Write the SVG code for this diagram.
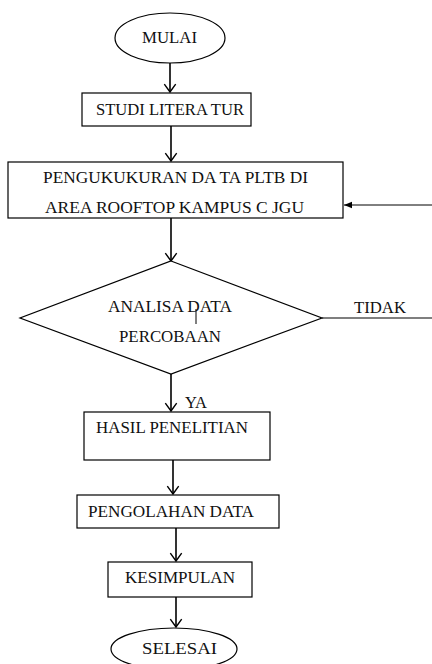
<svg xmlns="http://www.w3.org/2000/svg" width="432" height="664" viewBox="0 0 432 664">
<style>
.s{fill:#fff;stroke:#000;stroke-width:1.2}
.t{font-family:"Liberation Serif","Times New Roman",serif;font-size:16.5px;fill:#111}
.c{fill:none;stroke:#000;stroke-width:1.6}
.h{fill:none;stroke:#000;stroke-width:1.6}
</style>
<defs>
<marker id="open" markerUnits="userSpaceOnUse" markerWidth="16" markerHeight="14" viewBox="-10 -8 11 16" refX="0" refY="0" orient="auto">
<path d="M-9,-6.5 L0,0 L-9,6.5" class="h"/>
</marker>
<marker id="fill" markerUnits="userSpaceOnUse" markerWidth="10" markerHeight="8" viewBox="-8 -4 9 8" refX="0" refY="0" orient="auto">
<path d="M-8,-3.2 L0,0 L-8,3.2 Z" fill="#000"/>
</marker>
</defs>
<rect width="432" height="664" fill="#fff"/>
<g id="connectors">
<line class="c" x1="170" y1="63" x2="170" y2="92" marker-end="url(#open)"/>
<line class="c" x1="171" y1="126" x2="171" y2="161" marker-end="url(#open)"/>
<line class="c" x1="171" y1="218" x2="171" y2="261" marker-end="url(#open)"/>
<line style="fill:none;stroke:#000;stroke-width:1" x1="432" y1="205" x2="344" y2="205" marker-end="url(#fill)"/>
<line style="fill:none;stroke:#000;stroke-width:1.2" x1="322" y1="318" x2="432" y2="318"/>
<line class="c" x1="171" y1="374" x2="171" y2="411" marker-end="url(#open)"/>
<line class="c" x1="173" y1="460" x2="173" y2="494" marker-end="url(#open)"/>
<line class="c" x1="176" y1="528" x2="176" y2="561" marker-end="url(#open)"/>
<line class="c" x1="176" y1="597" x2="176" y2="627" marker-end="url(#open)"/>
<text class="t" x="354" y="313" textLength="52" lengthAdjust="spacingAndGlyphs">TIDAK</text>
<text class="t" x="185" y="408" textLength="22" lengthAdjust="spacingAndGlyphs">YA</text>
</g>
<g id="mulai">
<ellipse class="s" cx="170" cy="38" rx="55" ry="25"/>
<text class="t" x="142" y="43" textLength="55" lengthAdjust="spacingAndGlyphs">MULAI</text>
</g>
<g id="studi">
<rect class="s" x="82" y="93" width="169" height="33"/>
<text class="t" x="96" y="115" textLength="148" lengthAdjust="spacingAndGlyphs">STUDI LITERA TUR</text>
</g>
<g id="pengukuran">
<rect class="s" x="8" y="162" width="335" height="56"/>
<text class="t" x="43" y="183" textLength="265" lengthAdjust="spacingAndGlyphs">PENGUKUKURAN DA TA PLTB  DI</text>
<text class="t" x="45" y="213" textLength="259" lengthAdjust="spacingAndGlyphs">AREA ROOFTOP  KAMPUS C JGU</text>
</g>
<g id="analisa">
<polygon class="s" points="171,261 322,318 171,374 20,318"/>
<text class="t" x="108" y="312" textLength="124" lengthAdjust="spacingAndGlyphs">ANALISA DATA</text>
<line x1="196" y1="309" x2="196" y2="324" stroke="#000" stroke-width="1"/>
<text class="t" x="119" y="342" textLength="102" lengthAdjust="spacingAndGlyphs">PERCOBAAN</text>
</g>
<g id="hasil">
<rect class="s" x="84" y="412" width="186" height="48"/>
<text class="t" x="96" y="433" textLength="152" lengthAdjust="spacingAndGlyphs">HASIL PENELITIAN</text>
</g>
<g id="pengolahan">
<rect class="s" x="77" y="495" width="202" height="33"/>
<text class="t" x="88" y="517" textLength="166" lengthAdjust="spacingAndGlyphs">PENGOLAHAN DATA</text>
</g>
<g id="kesimpulan">
<rect class="s" x="108" y="562" width="144" height="35"/>
<text class="t" x="125" y="583" textLength="110" lengthAdjust="spacingAndGlyphs">KESIMPULAN</text>
</g>
<g id="selesai">
<ellipse class="s" cx="174" cy="649" rx="63" ry="21"/>
<text class="t" x="142" y="654" textLength="75" lengthAdjust="spacingAndGlyphs">SELESAI</text>
</g>
</svg>
